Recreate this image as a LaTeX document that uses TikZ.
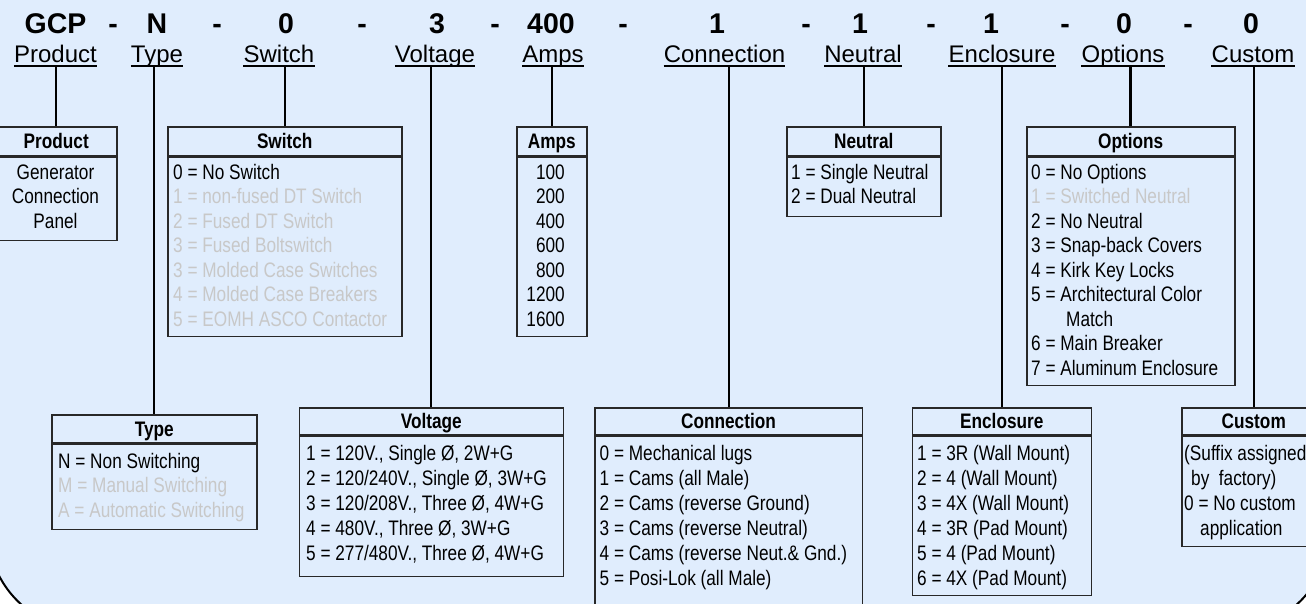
\documentclass[tikz,border=0pt]{standalone}
\usepackage{fontspec}
\setmainfont{Liberation Sans}
\newfontfamily\narrowfont{Liberation Sans}[FakeStretch=0.82]
\definecolor{bgblue}{RGB}{224,237,253}
\definecolor{greyed}{RGB}{200,200,200}
\definecolor{rim}{RGB}{40,40,40}

\tikzset{
  code/.style={font=\bfseries\fontsize{28.5}{30}\selectfont, inner sep=0pt, anchor=base},
  field/.style={font=\fontsize{24}{26}\selectfont, inner sep=0pt, anchor=base, text depth=3.5pt},
  head/.style={draw=rim, line width=1.5pt, anchor=north west, inner sep=0pt,
    text height=15pt, text depth=0pt, font=\narrowfont\bfseries\fontsize{21}{23}\selectfont},
  body/.style={draw=rim, line width=1.5pt, anchor=north west, inner sep=0pt},
  entry/.style={font=\narrowfont\fontsize{21}{23}\selectfont, inner sep=0pt, anchor=base west},
  link/.style={line width=2pt},
}

\begin{document}
\begin{tikzpicture}[x=1pt, y=-1pt]
  \clip (0,0) rectangle (1306,603);
  \fill[white] (0,0) rectangle (1306,603);
  \filldraw[fill=bgblue, draw=black, line width=2pt, rounded corners=100pt] (-12,-120) rectangle (1330,630);

  % part number
  \foreach \t/\x [count=\i] in {GCP/55.5, -/113, N/157, -/217, 0/286, -/362, 3/437, -/495, 400/551, -/623,
      1/717, -/806, 1/860, -/931, 1/991, -/1065, 0/1124, -/1188, 0/1251}
    \node[code] (code\i) at (\x,33.3) {\t};

  % field names
  \foreach \t/\x in {Product/55.5, Type/157, Switch/279, Voltage/435, Amps/553,
      Connection/724.5, Neutral/863, Enclosure/1002, Options/1123, Custom/1253} {
    \node[field] (lbl-\t) at (\x,62.3) {\t};
    \draw[line width=1.5pt] (lbl-\t.south west) -- (lbl-\t.south east);
  }

  % Product
  \node[head, minimum width=121pt, minimum height=28.5pt] (box-Product) at (-5,126) {Product};
  \node[body, minimum width=121pt, minimum height=83.5pt] (body-Product) at (box-Product.south west) {};
  \foreach \t [count=\k from 0] in {Generator, Connection, Panel}
    \node[entry, anchor=base] (prod\k) at (55.5,{179+24.5*\k}) {\t};

  % Switch
  \node[head, minimum width=234pt, minimum height=28.5pt] (box-Switch) at (167,126) {Switch};
  \node[body, minimum width=234pt, minimum height=179.5pt] (body-Switch) at (box-Switch.south west) {};
  \foreach \c/\t [count=\k from 0] in {black/0 = No Switch, greyed/1 = non-fused DT Switch,
      greyed/2 = Fused DT Switch, greyed/3 = Fused Boltswitch, greyed/3 = Molded Case Switches,
      greyed/4 = Molded Case Breakers, greyed/5 = EOMH ASCO Contactor}
    \node[entry, text=\c] (sw\k) at (173,{179+24.5*\k}) {\t};

  % Amps
  \node[head, minimum width=70pt, minimum height=28.5pt] (box-Amps) at (516,126) {Amps};
  \node[body, minimum width=70pt, minimum height=179.5pt] (body-Amps) at (box-Amps.south west) {};
  \foreach \t [count=\k from 0] in {100, 200, 400, 600, 800, 1200, 1600}
    \node[entry, anchor=base east] (amp\k) at (565,{179+24.5*\k}) {\t};

  % Neutral
  \node[head, minimum width=154pt, minimum height=28.5pt] (box-Neutral) at (786,126) {Neutral};
  \node[body, minimum width=154pt, minimum height=59.5pt] (body-Neutral) at (box-Neutral.south west) {};
  \foreach \t [count=\k from 0] in {1 = Single Neutral, 2 = Dual Neutral}
    \node[entry] (neu\k) at (791,{179+24.5*\k}) {\t};

  % Options
  \node[head, minimum width=208pt, minimum height=28.5pt] (box-Options) at (1026,126) {Options};
  \node[body, minimum width=208pt, minimum height=228.5pt] (body-Options) at (box-Options.south west) {};
  \foreach \c/\t [count=\k from 0] in {black/0 = No Options, greyed/1 = Switched Neutral,
      black/2 = No Neutral, black/3 = Snap-back Covers, black/4 = Kirk Key Locks,
      black/5 = Architectural Color, black/\hspace*{35pt}Match, black/6 = Main Breaker,
      black/7 = Aluminum Enclosure}
    \node[entry, text=\c] (opt\k) at (1031,{179+24.5*\k}) {\t};

  % Type
  \node[head, minimum width=205pt, minimum height=28pt] (box-Type) at (51,414) {Type};
  \node[body, minimum width=205pt, minimum height=85pt] (body-Type) at (box-Type.south west) {};
  \foreach \c/\t [count=\k from 0] in {black/N = Non Switching, greyed/M = Manual Switching,
      greyed/A = Automatic Switching}
    \node[entry, text=\c] (typ\k) at (58,{468+24.5*\k}) {\t};

  % Voltage
  \node[head, minimum width=264pt, minimum height=27pt] (box-Voltage) at (298.5,407) {Voltage};
  \node[body, minimum width=264pt, minimum height=140pt] (body-Voltage) at (box-Voltage.south west) {};
  \foreach \t [count=\k from 0] in {{1 = 120V., Single Ø, 2W+G}, {2 = 120/240V., Single Ø, 3W+G},
      {3 = 120/208V., Three Ø, 4W+G}, {4 = 480V., Three Ø, 3W+G}, {5 = 277/480V., Three Ø, 4W+G}}
    \node[entry] (vol\k) at (306,{460.5+25*\k}) {\t};

  % Connection
  \node[head, minimum width=267.5pt, minimum height=27pt] (box-Connection) at (594,407) {Connection};
  \node[body, minimum width=267.5pt, minimum height=200pt] (body-Connection) at (box-Connection.south west) {};
  \foreach \t [count=\k from 0] in {0 = Mechanical lugs, 1 = Cams (all Male), 2 = Cams (reverse Ground),
      3 = Cams (reverse Neutral), 4 = Cams (reverse Neut.\& Gnd.), 5 = Posi-Lok (all Male)}
    \node[entry] (con\k) at (599.5,{460.5+25*\k}) {\t};

  % Enclosure
  \node[head, minimum width=179pt, minimum height=27pt] (box-Enclosure) at (911.5,407) {Enclosure};
  \node[body, minimum width=179pt, minimum height=159pt] (body-Enclosure) at (box-Enclosure.south west) {};
  \foreach \t [count=\k from 0] in {1 = 3R (Wall Mount), 2 = 4 (Wall Mount), 3 = 4X (Wall Mount),
      4 = 3R (Pad Mount), 5 = 4 (Pad Mount), 6 = 4X (Pad Mount)}
    \node[entry] (enc\k) at (917,{460.5+25*\k}) {\t};

  % Custom
  \node[head, minimum width=144pt, minimum height=27pt] (box-Custom) at (1181,407) {Custom};
  \node[body, minimum width=144pt, minimum height=110pt] (body-Custom) at (box-Custom.south west) {};
  \foreach \t [count=\k from 0] in {{(Suffix assigned}, {\hspace*{7pt}by\ \ factory)},
      {0 = No custom}, {\hspace*{16pt}application}}
    \node[entry] (cus\k) at (1184,{460.5+25*\k}) {\t};

  % links from field names down to their boxes
  \foreach \t/\w in {Product/2, Type/2, Switch/2, Voltage/2, Amps/2,
      Connection/2, Neutral/2, Enclosure/2, Options/3, Custom/2}
    \draw[link, line width=\w pt] (lbl-\t.south -| box-\t.north) -- (box-\t.north);
\end{tikzpicture}
\end{document}
